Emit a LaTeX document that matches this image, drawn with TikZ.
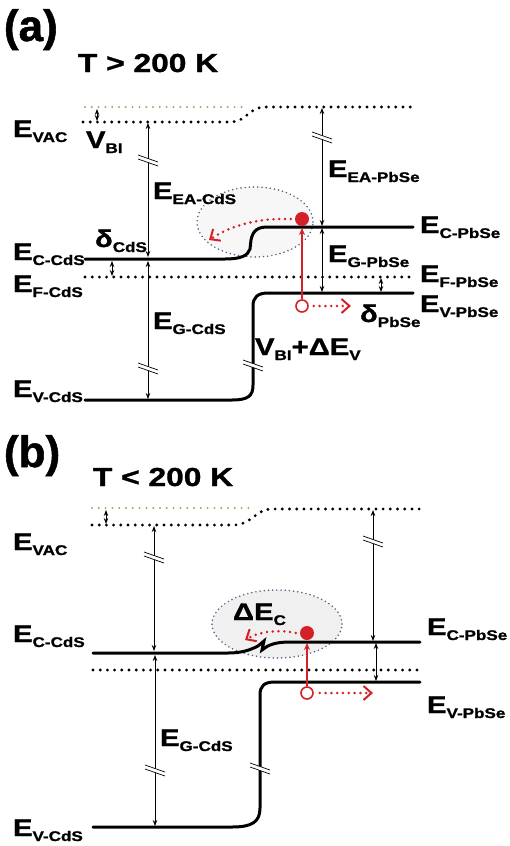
\documentclass[tikz,border=0pt]{standalone}
\usepackage{fontspec}
\setmainfont{Liberation Sans}
\newfontfamily\labf{Liberation Sans}[FakeStretch=1.22,FakeBold=1.2]
\newfontfamily\panf{Liberation Sans}[FakeBold=1.2]
\usetikzlibrary{arrows.meta}
\definecolor{bandred}{HTML}{D42027}
\definecolor{olivedot}{HTML}{A8A060}
\definecolor{ellblue}{HTML}{4C5E80}
\newcommand{\lv}[2]{{\labf\bfseries\fontsize{24}{26}\selectfont #1\raisebox{-5pt}{\fontsize{14}{16}\selectfont #2}}}
\begin{document}
\begin{tikzpicture}[x=1pt,y=-1pt,
 band/.style={line width=3pt,line cap=round},
 dotline/.style={line width=3.2pt,line cap=round,dash pattern=on 0pt off 7.2pt},
 vacref/.style={olivedot,line width=2.2pt,line cap=round,dash pattern=on 0pt off 6.8pt},
 dim/.style={line width=0.8pt,{Stealth[length=6pt,width=4.5pt]}-{Stealth[length=6pt,width=4.5pt]}},
 ell/.style={ellblue,line width=1.7pt,line cap=round,dash pattern=on 0pt off 4.2pt},
 redup/.style={bandred,line width=1.8pt,-{Stealth[length=7pt,width=6pt]}},
 reddot/.style={bandred,line width=2.8pt,line cap=round,dash pattern=on 0pt off 5.8pt,-{Straight Barb[line width=2pt,length=8pt,width=14pt]}},
 electron/.style={circle,fill=bandred,minimum size=14pt,inner sep=0pt},
 hole/.style={circle,draw=bandred,line width=1.6pt,minimum size=12pt,inner sep=0pt},
 lbl/.style={anchor=base west,inner sep=0pt,outer sep=0pt},
 paneltitle/.style={lbl,font=\panf\bfseries\fontsize{44}{44}\selectfont},
 temptitle/.style={lbl,font=\labf\bfseries\fontsize{26}{28}\selectfont},
 breakmark/.pic={
   \fill[white] (-10,-5) -- (10,2) -- (10,6) -- (-10,-1) -- cycle;
   \draw[line width=0.7pt] (-10,-5) -- (10,2) (-10,-1) -- (10,6);
 }
]
\useasboundingbox[fill=white] (0,0) rectangle (509,846);

% ================= panel (a) =================
\draw[ell,fill=gray!6] (255,222) ellipse [x radius=58pt, y radius=35pt];
% vacuum levels
\draw[vacref] (85,107) -- (242,107);
\draw[dotline] (83,122) -- (232,122) .. controls (246,121) and (249,108) .. (264,107) -- (415,107);
% Fermi level
\draw[dotline] (85,277) -- (415,277);
% conduction band
\draw[band] (85,259) -- (225,259) .. controls (240,259) and (248,256) .. (250,249) -- (251,240) .. controls (253,230) and (258,227) .. (268,227) -- (413,227);
% valence band
\draw[band] (85,400) -- (232,400) .. controls (248,400) and (253,396) .. (253,385) -- (253,306) .. controls (253,297) and (258,293) .. (268,293) -- (413,293);
% dimension arrows
\draw[dim] (97,109) -- (97,121);
\draw[dim] (148,123) -- (148,257);
\draw[dim] (148,261) -- (148,399);
\draw[dim] (112,261) -- (112,276);
\draw[dim] (322,108) -- (322,226);
\draw[dim] (322,228) -- (322,292);
\draw[dim] (381,278) -- (381,292);
\pic at (148,160) {breakmark};
\pic at (148,368) {breakmark};
\pic at (322,137) {breakmark};
\pic at (253,365) {breakmark};
% carriers
\node[electron] (ea) at (302,219) {};
\node[hole] (ha) at (302,306) {};
\draw[redup] (ha.north) -- (302,228);
\draw[reddot] ([xshift=5pt]ha.east) -- (351,306);
\draw[reddot] ([xshift=-4pt]ea.west) .. controls (258,218) and (232,225) .. (209,240);
% labels
\node[paneltitle] (pa) at (4,41) {(a)};
\node[temptitle] (ta) at (78,72) {T > 200 K};
\node[lbl] (evaca) at (13,137) {\lv{E}{VAC}};
\node[lbl] (vbia) at (86,148) {\lv{V}{BI}};
\node[lbl] (eeacds) at (153,199) {\lv{E}{EA-CdS}};
\node[lbl] (eeapbse) at (328,177) {\lv{E}{EA-PbSe}};
\node[lbl] (ecpbsea) at (420,233) {\lv{E}{C-PbSe}};
\node[lbl] (egpbse) at (328,262) {\lv{E}{G-PbSe}};
\node[lbl] (efpbse) at (420,282) {\lv{E}{F-PbSe}};
\node[lbl] (evpbsea) at (420,312) {\lv{E}{V-PbSe}};
\node[lbl] (dpbse) at (360,322) {\lv{δ}{PbSe}};
\node[lbl] (vbide) at (255,355) {\lv{V}{BI}\lv{+ΔE}{V}};
\node[lbl] (eccdsa) at (13,260) {\lv{E}{C-CdS}};
\node[lbl] (dcds) at (95,247) {\lv{δ}{CdS}};
\node[lbl] (efcds) at (13,292) {\lv{E}{F-CdS}};
\node[lbl] (egcdsa) at (153,329) {\lv{E}{G-CdS}};
\node[lbl] (evcdsa) at (13,397) {\lv{E}{V-CdS}};

% ================= panel (b) =================
\draw[ell,fill=gray!12] (277,624) ellipse [x radius=65pt, y radius=34pt];
\draw[vacref] (92,508) -- (250,508);
\draw[dotline] (92,525) -- (235,525) .. controls (252,524) and (256,509) .. (272,509) -- (420,509);
\draw[dotline] (93,670) -- (420,670);
% conduction band with spike
\draw[band,line join=miter] (93,653) -- (228,653) .. controls (242,653) and (250,650) .. (258,646) -- (264,641) -- (262,650) .. controls (268,645) and (275,642) .. (290,642) -- (420,642);
% valence band
\draw[band] (93,827) -- (232,827) .. controls (252,827) and (260,822) .. (260,808) -- (260,695) .. controls (260,686) and (264,682) .. (275,682) -- (420,682);
% dimension arrows
\draw[dim] (106,510) -- (106,524);
\draw[dim] (154,526) -- (154,651);
\draw[dim] (155,655) -- (155,826);
\draw[dim] (373,510) -- (373,641);
\draw[dim] (376,643) -- (376,681);
\pic at (154,557) {breakmark};
\pic at (155,770) {breakmark};
\pic at (373,541) {breakmark};
\pic at (260,768) {breakmark};
% carriers
\node[electron] (eb) at (307,633) {};
\node[hole] (hb) at (307,693) {};
\draw[redup] (hb.north) -- (307,643);
\draw[reddot] ([xshift=6pt]hb.east) -- (373,693);
\draw[reddot] ([xshift=-4pt]eb.west) .. controls (282,630) and (262,630) .. (245,640);
% labels
\node[paneltitle] (pb) at (4,467) {(b)};
\node[temptitle] (tb) at (93,486) {T < 200 K};
\node[lbl] (evacb) at (13,550) {\lv{E}{VAC}};
\node[lbl] (dec) at (233,620) {\lv{ΔE}{C}};
\node[lbl] (ecpbseb) at (427,635) {\lv{E}{C-PbSe}};
\node[lbl] (evpbseb) at (427,713) {\lv{E}{V-PbSe}};
\node[lbl] (eccdsb) at (13,642) {\lv{E}{C-CdS}};
\node[lbl] (egcdsb) at (160,746) {\lv{E}{G-CdS}};
\node[lbl] (evcdsb) at (13,836) {\lv{E}{V-CdS}};
\end{tikzpicture}
\end{document}
